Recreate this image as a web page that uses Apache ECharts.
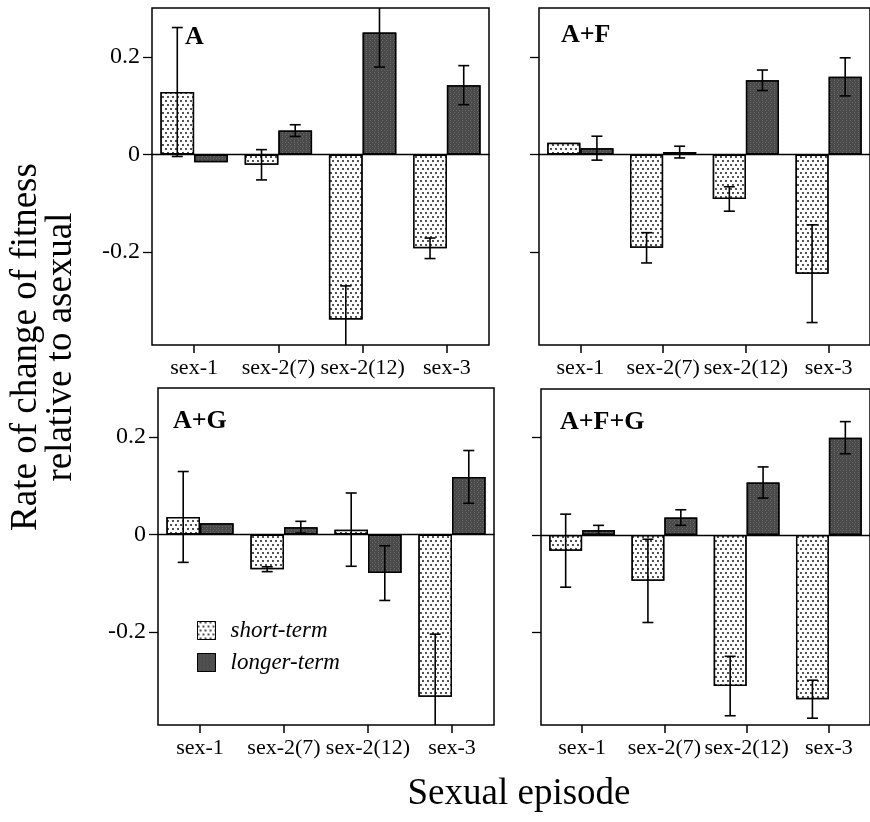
<!DOCTYPE html>
<html>
<head>
<meta charset="utf-8">
<script src="https://cdn.jsdelivr.net/npm/echarts@6/dist/echarts.min.js"></script>
<style>
  html, body { margin: 0; padding: 0; background: #fff; }
  #chart { width: 870px; height: 822px; }
</style>
</head>
<body>
<div id="chart"></div>
<script>
const categories = ['sex-1', 'sex-2(7)', 'sex-2(12)', 'sex-3']
const panelNames = ['A', 'A+F', 'A+G', 'A+F+G']
const yTicks = [-0.2, 0, 0.2]

// short-term bars and half-widths of their error bars
const shortA = [0.128, -0.021, -0.338, -0.192]
const shortErrA = [0.132, 0.031, 0.069, 0.021]
const shortAF = [0.024, -0.191, -0.091, -0.244]
const shortErrAF = [0, 0.031, 0.025, 0.1]
const shortAG = [0.036, -0.071, 0.01, -0.332]
const shortErrAG = [0.093, 0.005, 0.075, 0.128]
const shortAFG = [-0.032, -0.094, -0.31, -0.337]
const shortErrAFG = [0.075, 0.0855, 0.061, 0.039]

// longer-term bars
const longA = [-0.016, 0.049, 0.25, 0.142]
const longErrA = [0, 0.012, 0.071, 0.04]
const longAF = [0.013, 0.005, 0.152, 0.159]
const longErrAF = [0.0245, 0.012, 0.021, 0.039]
const longAG = [0.023, 0.015, -0.079, 0.118]
const longErrAG = [0, 0.012, 0.056, 0.054]
const longAFG = [0.01, 0.036, 0.108, 0.2]
const longErrAFG = [0.01, 0.016, 0.032, 0.033]

const shortSets = [shortA, shortAF, shortAG, shortAFG]
const shortErrSets = [shortErrA, shortErrAF, shortErrAG, shortErrAFG]
const longSets = [longA, longAF, longAG, longAFG]
const longErrSets = [longErrA, longErrAF, longErrAG, longErrAFG]

const FONT = '"Liberation Serif", "Times New Roman", serif'

const grids = [
  { left: 152, top: 8, width: 337, height: 337 },
  { left: 539, top: 8, width: 336, height: 337 },
  { left: 158, top: 388, width: 336, height: 337 },
  { left: 541, top: 389, width: 336, height: 336 },
]
const labelPos = [
  { x: 185, y: 24 },
  { x: 561, y: 22 },
  { x: 173, y: 408 },
  { x: 560, y: 409 },
]

const shortStyle = {
  color: '#fff',
  borderColor: '#000',
  borderWidth: 1.5,
  decal: {
    symbol: 'circle',
    symbolSize: 0.9,
    color: '#000',
    backgroundColor: '#fff',
    dashArrayX: [[1.3, 2.7], [0, 2, 1.3, 0.7]],
    dashArrayY: [1.3, 1.2],
  },
}
const longStyle = {
  color: '#545454',
  borderColor: '#000',
  borderWidth: 1.5,
  decal: {
    symbol: 'rect',
    symbolSize: 1,
    color: '#686868',
    backgroundColor: '#4a4a4a',
    dashArrayX: [[1, 2], [0, 1.5, 1, 0.5]],
    dashArrayY: [1, 1],
  },
}

function errorRenderer(side) {
  return function (params, api) {
    const lo = api.value(1)
    const hi = api.value(2)
    if (hi === lo) return
    const idx = api.value(0)
    const band = api.size([1, 0])[0]
    const x = api.coord([idx, 0])[0] + side * band * 0.2
    const yl = api.coord([idx, lo])[1]
    const yh = api.coord([idx, hi])[1]
    const cap = 5.5
    const st = { stroke: '#000', lineWidth: 1.6 }
    return {
      type: 'group',
      children: [
        { type: 'line', shape: { x1: x, y1: yh, x2: x, y2: yl }, style: st },
        { type: 'line', shape: { x1: x - cap, y1: yh, x2: x + cap, y2: yh }, style: st },
        { type: 'line', shape: { x1: x - cap, y1: yl, x2: x + cap, y2: yl }, style: st },
      ],
    }
  }
}

const xAxis = []
const yAxis = []
const series = []

grids.forEach((g, i) => {
  xAxis.push({
    type: 'category',
    gridIndex: i,
    data: categories,
    position: 'bottom',
    axisLine: { show: false, onZero: false },
    axisTick: { show: true, alignWithLabel: true, inside: false, length: 8, lineStyle: { color: '#000', width: 1.5 } },
    axisLabel: { color: '#000', fontFamily: FONT, fontSize: 22, margin: 12, interval: 0 },
    splitLine: { show: false },
  })
  xAxis.push({
    type: 'category',
    gridIndex: i,
    data: categories,
    position: 'bottom',
    axisLine: { show: true, onZero: true, lineStyle: { color: '#000', width: 1.3 } },
    axisTick: { show: false },
    axisLabel: { show: false },
  })
  yAxis.push({
    type: 'value',
    gridIndex: i,
    min: -0.39,
    max: 0.3,
    axisLine: { show: false },
    axisTick: { show: true, inside: false, length: 9, customValues: yTicks, lineStyle: { color: '#000', width: 1.3 } },
    axisLabel: {
      show: i === 0 || i === 2,
      customValues: yTicks,
      color: '#000',
      fontFamily: FONT,
      fontSize: 24,
      margin: 12,
    },
    splitLine: { show: false },
  })

  series.push({
    name: 'short-term',
    type: 'bar',
    xAxisIndex: 2 * i,
    yAxisIndex: i,
    barWidth: '40%',
    barGap: '0%',
    itemStyle: shortStyle,
    data: shortSets[i],
    silent: true,
  })
  series.push({
    name: 'longer-term',
    type: 'bar',
    xAxisIndex: 2 * i,
    yAxisIndex: i,
    barWidth: '40%',
    barGap: '0%',
    itemStyle: longStyle,
    data: longSets[i],
    silent: true,
  })
  series.push({
    type: 'custom',
    xAxisIndex: 2 * i,
    yAxisIndex: i,
    clip: true,
    z: 5,
    renderItem: errorRenderer(-1),
    encode: { x: 0, y: [1, 2] },
    data: shortSets[i].map((v, j) => [j, v - shortErrSets[i][j], v + shortErrSets[i][j]]),
    silent: true,
  })
  series.push({
    type: 'custom',
    xAxisIndex: 2 * i,
    yAxisIndex: i,
    clip: true,
    z: 5,
    renderItem: errorRenderer(1),
    encode: { x: 0, y: [1, 2] },
    data: longSets[i].map((v, j) => [j, v - longErrSets[i][j], v + longErrSets[i][j]]),
    silent: true,
  })
})

const graphic = panelNames.map((name, i) => ({
  type: 'text',
  x: labelPos[i].x,
  y: labelPos[i].y,
  style: {
    text: name,
    font: 'bold 26px ' + FONT,
    fill: '#000',
  },
}))
graphic.push({
  type: 'text',
  x: 44,
  y: 347,
  rotation: Math.PI / 2,
  style: {
    text: 'Rate of change of fitness\nrelative to asexual',
    font: '37px ' + FONT,
    fill: '#000',
    textAlign: 'center',
    textVerticalAlign: 'middle',
    lineHeight: 35,
  },
})
graphic.push({
  type: 'text',
  x: 519,
  y: 776,
  style: {
    text: 'Sexual episode',
    font: '37px ' + FONT,
    fill: '#000',
    textAlign: 'center',
  },
})

const chart = echarts.init(document.getElementById('chart'))
chart.setOption({
  animation: false,
  backgroundColor: '#fff',
  grid: grids.map((g) => ({ ...g, show: true, borderColor: '#000', borderWidth: 1.5, backgroundColor: 'transparent' })),
  legend: {
    data: ['short-term', 'longer-term'],
    orient: 'vertical',
    left: 192,
    top: 614,
    itemWidth: 18,
    itemHeight: 18,
    itemGap: 9,
    icon: 'rect',
    selectedMode: false,
    itemStyle: { borderColor: '#000', borderWidth: 1 },
    textStyle: { fontFamily: FONT, fontStyle: 'italic', fontSize: 23, color: '#000', padding: [0, 0, 0, 10] },
  },
  xAxis,
  yAxis,
  series,
  graphic,
})
</script>
</body>
</html>
